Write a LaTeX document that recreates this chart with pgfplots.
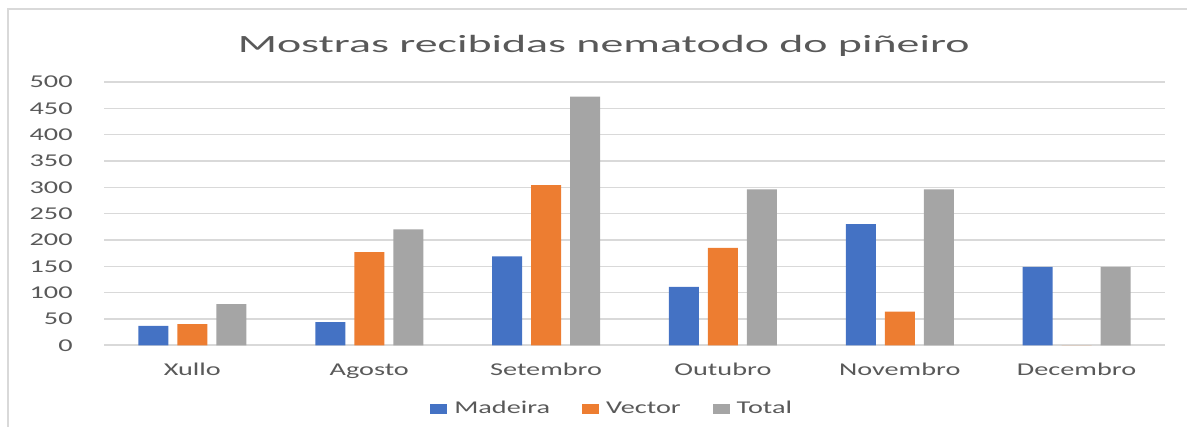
\documentclass[border=0pt]{standalone}
\usepackage{fontspec}
\setmainfont{Carlito}[FakeStretch=1.57]
\newfontfamily\titlefont{Carlito}[FakeStretch=1.85]
\usepackage{pgfplots}
\pgfplotsset{compat=1.18}
\definecolor{cblue}{HTML}{4472C4}
\definecolor{corange}{HTML}{ED7D31}
\definecolor{cgray}{HTML}{A5A5A5}
\definecolor{ctext}{HTML}{595959}
\definecolor{cgrid}{HTML}{D9D9D9}
\begin{document}
\begin{tikzpicture}
\useasboundingbox (-52pt,-40.85pt) rectangle (541.5pt,172.65pt);
\draw[cgrid, line width=1pt] (-47.75pt,-50pt) -- (-47.75pt,168.15pt) -- (560pt,168.15pt);
\begin{axis}[
  at={(0,0)}, anchor=south west,
  scale only axis,
  width=530.5pt, height=131.65pt,
  ybar=4.5pt, bar width=15pt,
  xmin=-0.5, xmax=5.5,
  ymin=0, ymax=500,
  ytick={0,50,...,500},
  xtick=data,
  xticklabels={Xullo,Agosto,Setembro,Outubro,Novembro,Decembro},
  axis line style={draw=none},
  tick style={draw=none},
  ymajorgrids,
  grid style={cgrid, line width=0.8pt},
  /pgf/number format/assume math mode=true,
  ticklabel style={font=\fontsize{9pt}{10pt}\selectfont, text=ctext},
  yticklabel style={anchor=east, inner sep=0pt, xshift=-15.5pt},
  xticklabel style={anchor=base, inner sep=0pt, yshift=-10.9pt},
  title={\titlefont\fontsize{12.4pt}{14pt}\selectfont Mostras recibidas nematodo do piñeiro},
  title style={at={(0.471,1.067)}, anchor=base, inner sep=0pt, text=ctext},
  legend columns=-1,
  legend style={at={(0.478,-0.242)}, anchor=center, draw=none, fill=none,
    font=\fontsize{9pt}{10pt}\selectfont, text=ctext,
    nodes={inner sep=0pt},
    /tikz/every odd column/.append style={column sep=3.5pt},
    /tikz/every even column/.append style={column sep=16pt}},
  legend image code/.code={\fill[#1] (0pt,-2.6pt) rectangle (8.5pt,2.6pt);},
  clip=false,
]
\addplot[fill=cblue, draw=none] coordinates {(0,37) (1,44) (2,169) (3,111) (4,230) (5,149)};
\addplot[fill=corange, draw=none] coordinates {(0,40) (1,177) (2,304) (3,185) (4,64) (5,0)};
\addplot[fill=cgray, draw=none] coordinates {(0,78) (1,220) (2,472) (3,296) (4,296) (5,149)};
\legend{Madeira,Vector,Total}
\end{axis}
\end{tikzpicture}
\end{document}
